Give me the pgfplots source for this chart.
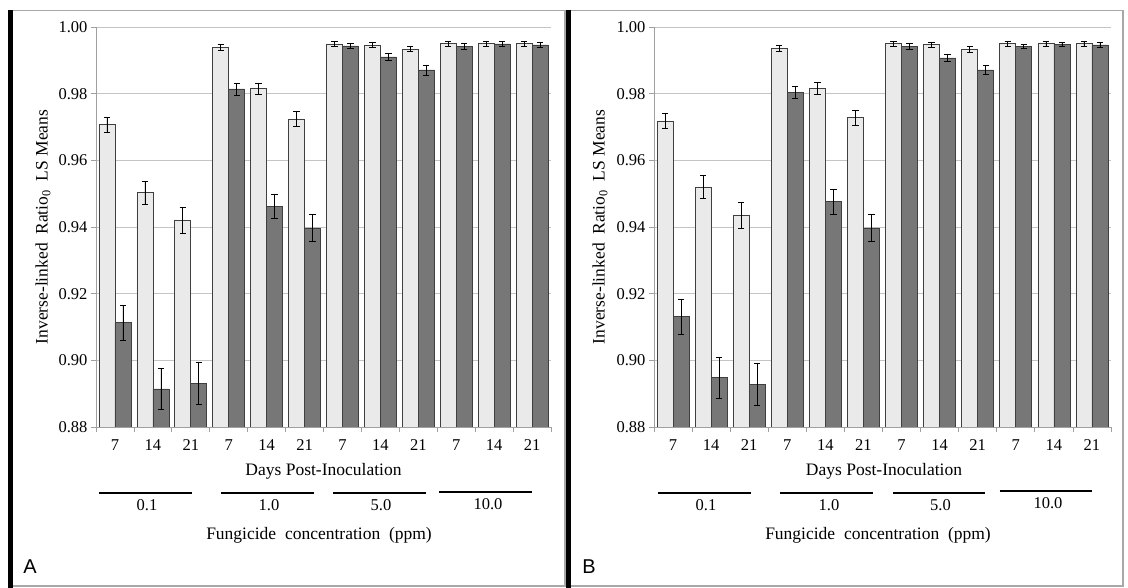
\documentclass[border=0pt]{standalone}
\usepackage{fontspec}
\setmainfont{Liberation Serif}
\newfontfamily\panelfont{Liberation Sans}
\usepackage{pgfplots}
\usepackage{pgfplotstable}
\pgfplotsset{compat=1.18}

\definecolor{lightbar}{HTML}{EAEAEA}
\definecolor{darkbar}{HTML}{777777}
\definecolor{baredge}{HTML}{3F3F3F}
\definecolor{gridgray}{HTML}{C4C4C4}
\definecolor{axgray}{HTML}{A0A0A0}
\definecolor{framegray}{HTML}{A8A8A8}

\pgfplotstableread{
x l le d de
0 0.9707 0.0023 0.9113 0.0053
1 0.9503 0.0034 0.8914 0.0062
2 0.9420 0.0039 0.8931 0.0062
3 0.9939 0.0009 0.9814 0.0018
4 0.9815 0.0017 0.9462 0.0037
5 0.9724 0.0023 0.9397 0.0040
6 0.9949 0.0008 0.9943 0.0008
7 0.9946 0.0007 0.9910 0.0011
8 0.9934 0.0008 0.9871 0.0015
9 0.9950 0.0007 0.9942 0.0008
10 0.9950 0.0007 0.9949 0.0007
11 0.9950 0.0007 0.9946 0.0008
}\dataA

\pgfplotstableread{
x l le d de
0 0.9718 0.0023 0.9131 0.0053
1 0.9520 0.0034 0.8948 0.0062
2 0.9434 0.0039 0.8928 0.0062
3 0.9937 0.0009 0.9804 0.0018
4 0.9816 0.0018 0.9476 0.0037
5 0.9728 0.0023 0.9397 0.0040
6 0.9950 0.0008 0.9942 0.0008
7 0.9947 0.0008 0.9907 0.0011
8 0.9934 0.0009 0.9871 0.0014
9 0.9950 0.0008 0.9942 0.0007
10 0.9950 0.0007 0.9948 0.0007
11 0.9950 0.0007 0.9946 0.0008
}\dataB

\newcommand{\tickfont}{\fontsize{16.5}{19}\selectfont}
\newcommand{\labfont}{\fontsize{17.5}{21}\selectfont}

\pgfplotsset{
  panel/.style={
    scale only axis, height=400pt,
    ymin=0.88, ymax=1.0, xmin=-0.5, xmax=11.5,
    ybar=0pt, bar width=16pt,
    axis x line*=bottom, axis y line*=left,
    axis line style={draw=axgray, line width=0.8pt, -},
    tick align=outside,
    major tick length=5pt,
    tick style={draw=axgray, line width=0.8pt},
    ytick={0.88,0.90,0.92,0.94,0.96,0.98,1.00},
    yticklabel style={font=\tickfont},
    /pgf/number format/fixed,
    /pgf/number format/fixed zerofill,
    /pgf/number format/precision=2,
    /pgf/number format/assume math mode=true,
    ymajorgrids, grid style={draw=gridgray, line width=0.9pt},
    xtick={-0.5,0.5,...,11.5}, xticklabels={},
    extra x ticks={0,1,2,3,4,5,6,7,8,9,10,11},
    extra x tick labels={7,14,21,7,14,21,7,14,21,7,14,21},
    extra x tick style={major tick length=0pt, grid=none},
    xticklabel style={font=\tickfont, yshift=-9pt},
    clip=true,
  },
  lightb/.style={fill=lightbar, draw=baredge, line width=0.7pt,
    error bars/.cd, y dir=both, y explicit,
    error bar style={black, line width=0.7pt},
    error mark options={rotate=90, mark size=3.2pt, black, line width=0.7pt}},
  darkb/.style={fill=darkbar, draw=baredge, line width=0.7pt,
    error bars/.cd, y dir=both, y explicit,
    error bar style={black, line width=0.7pt},
    error mark options={rotate=90, mark size=3.2pt, black, line width=0.7pt}},
}

\begin{document}
\begin{tikzpicture}[x=1pt, y=1pt]
\useasboundingbox (0,0) rectangle (1128,588);

% panel frames
\fill[black] (8,0) rectangle (12.5,578);
\draw[framegray, line width=1.5pt] (12.5,577.3) -- (565,577.3) -- (565,2) -- (12.5,2);
\fill[black] (566,0) rectangle (571,578);
\draw[framegray, line width=1.5pt] (571,577.3) -- (1123,577.3) -- (1123,2) -- (571,2);

% Panel A
\begin{axis}[panel, width=455pt, at={(96pt,161pt)}, anchor=south west]
\addplot[lightb] table[x=x, y=l, y error=le]{\dataA};
\addplot[darkb] table[x=x, y=d, y error=de]{\dataA};
\end{axis}

% Panel B
\begin{axis}[panel, width=457pt, at={(654pt,161pt)}, anchor=south west]
\addplot[lightb] table[x=x, y=l, y error=le]{\dataB};
\addplot[darkb] table[x=x, y=d, y error=de]{\dataB};
\end{axis}

% y labels
\node[rotate=90, font=\labfont] at (43,361) {Inverse-linked\ \ Ratio\textsubscript{0}\ \ LS Means};
\node[rotate=90, font=\labfont] at (600,361) {Inverse-linked\ \ Ratio\textsubscript{0}\ \ LS Means};

% x labels
\node[font=\labfont] at (323.5,117) {Days Post-Inoculation};
\node[font=\labfont] at (884,117) {Days Post-Inoculation};

% group lines and labels A
\draw[black, line width=2pt] (99,95) -- (192,95);
\draw[black, line width=2pt] (221,95) -- (314,95);
\draw[black, line width=2pt] (333,95) -- (426,95);
\draw[black, line width=2pt] (439,96) -- (532,96);
\node[font=\tickfont] at (147,83) {0.1};
\node[font=\tickfont] at (269,83) {1.0};
\node[font=\tickfont] at (381,83) {5.0};
\node[font=\tickfont] at (488,84) {10.0};

% group lines and labels B
\draw[black, line width=2pt] (658,95) -- (751,95);
\draw[black, line width=2pt] (780,95) -- (873,95);
\draw[black, line width=2pt] (893,95) -- (985,95);
\draw[black, line width=2pt] (999.5,97) -- (1092,97);
\node[font=\tickfont] at (706,83) {0.1};
\node[font=\tickfont] at (829,83) {1.0};
\node[font=\tickfont] at (940.5,83) {5.0};
\node[font=\tickfont] at (1048,84.5) {10.0};

% concentration labels
\node[font=\labfont] at (319,53) {Fungicide\ \ concentration\ \ (ppm)};
\node[font=\labfont] at (878,53) {Fungicide\ \ concentration\ \ (ppm)};

% panel letters
\node[font=\panelfont\fontsize{20}{24}\selectfont] at (30,21) {A};
\node[font=\panelfont\fontsize{20}{24}\selectfont] at (589,21) {B};
\end{tikzpicture}
\end{document}
